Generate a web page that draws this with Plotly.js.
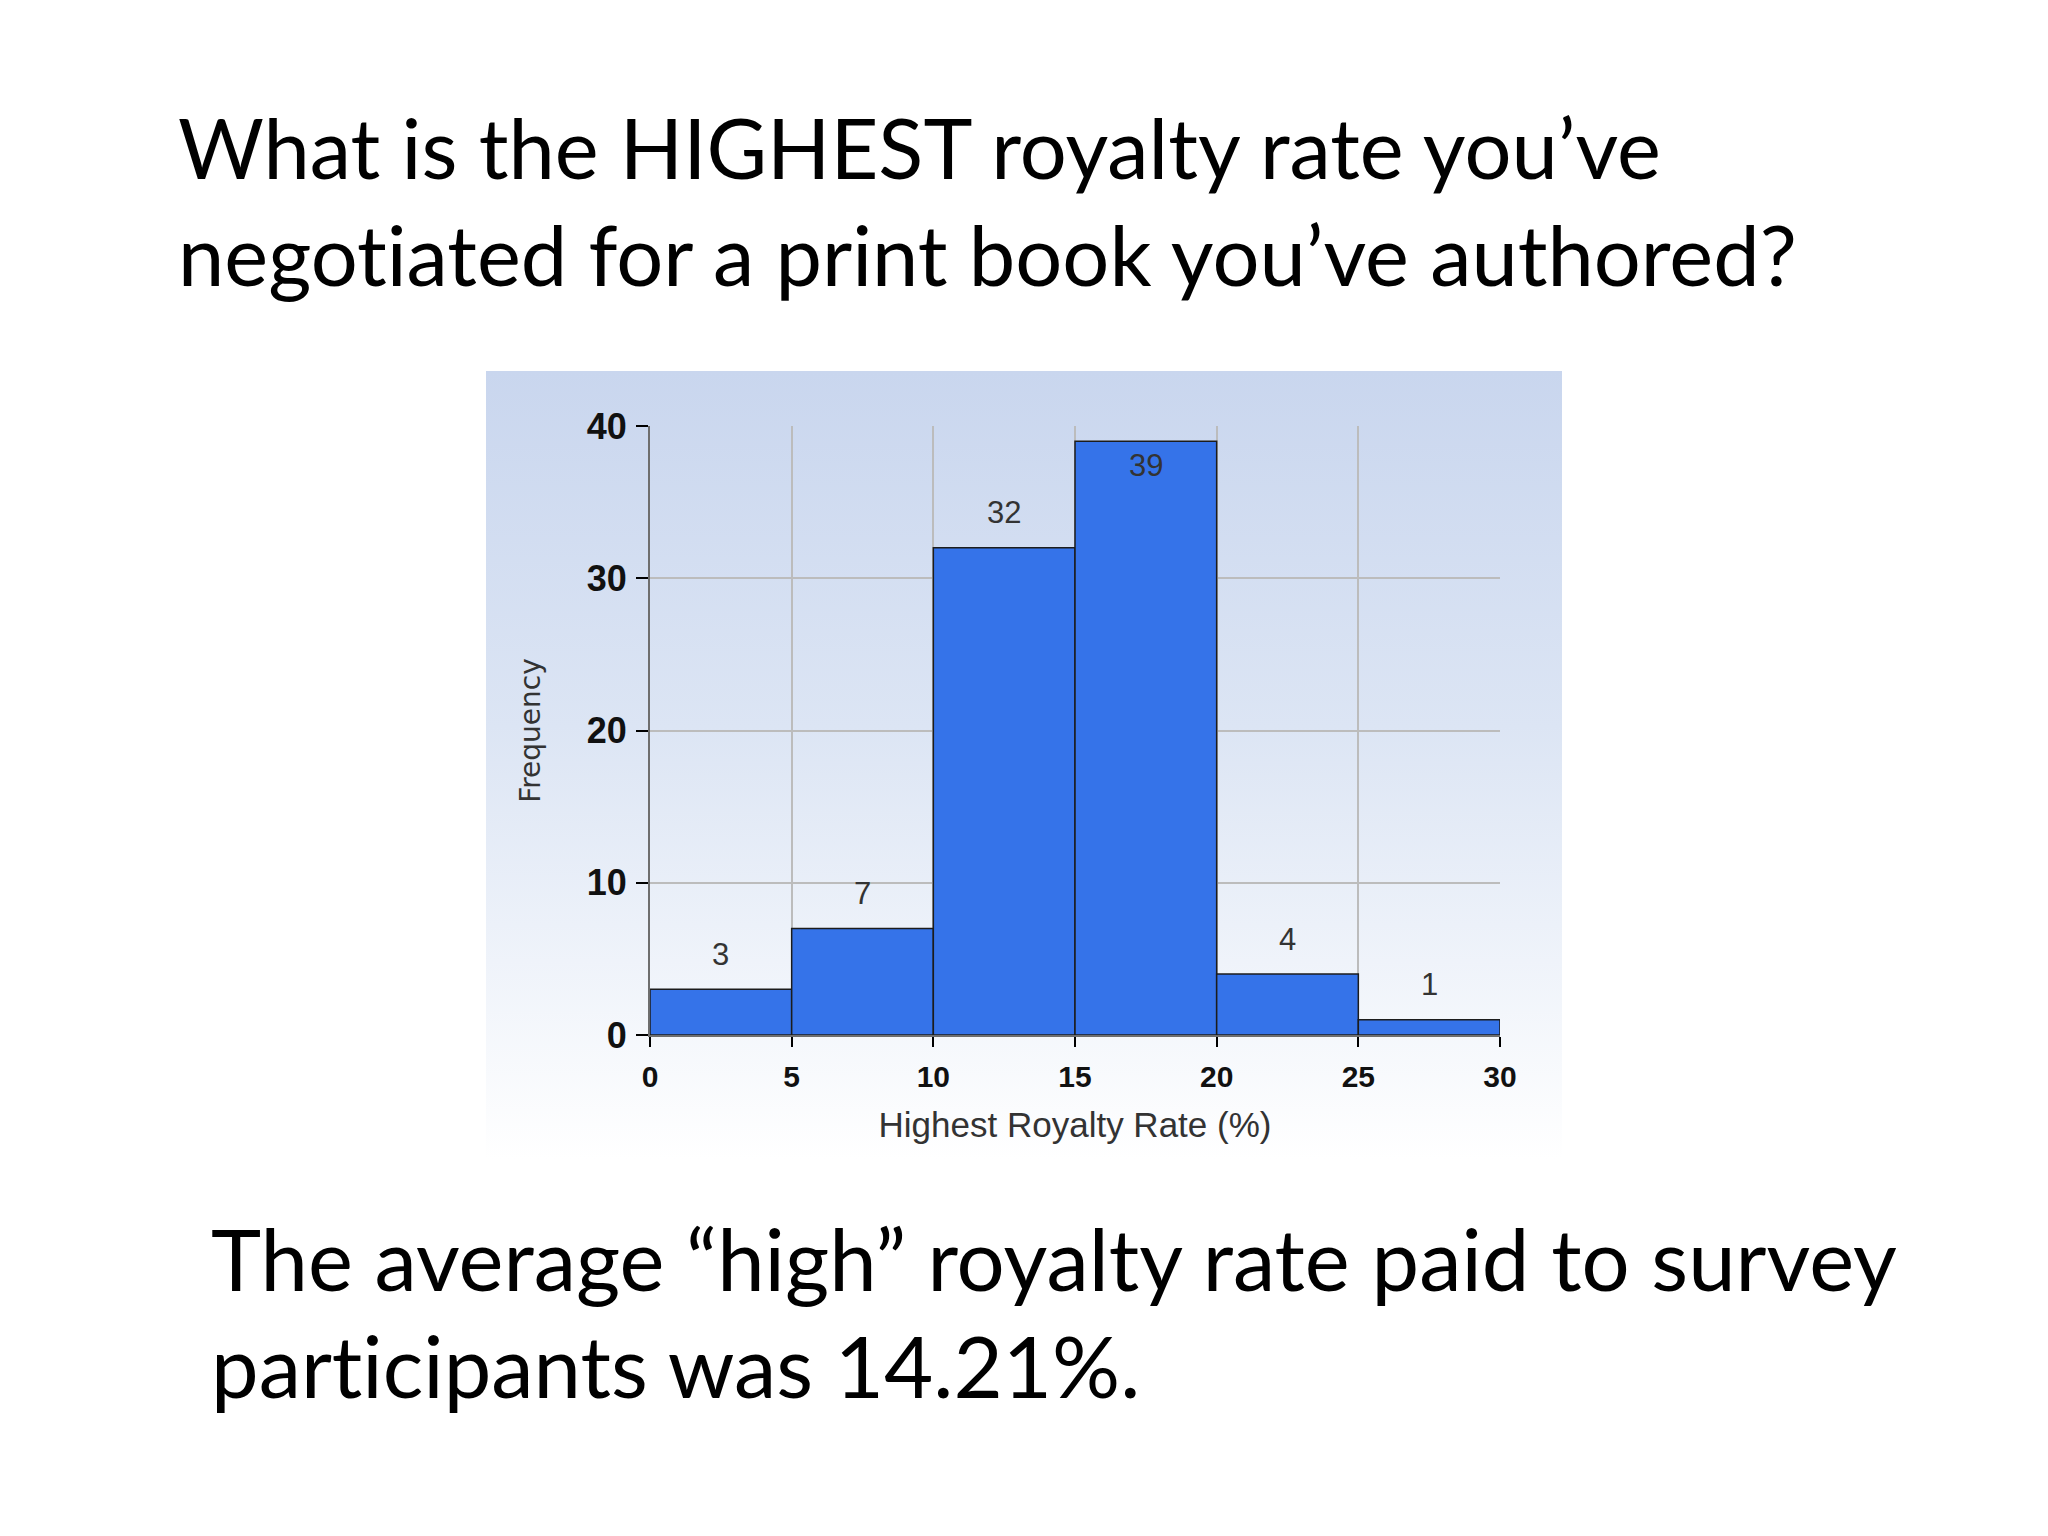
<!DOCTYPE html>
<html>
<head>
<meta charset="utf-8">
<script src="https://cdn.plot.ly/plotly-3.0.1.min.js"></script>
<style>html,body{margin:0;padding:0;background:#fff;}#chart{width:2048px;height:1536px;}
text{font-variant-ligatures:none;font-feature-settings:"liga" 0;}</style>
</head>
<body>
<div id="chart"></div>
<script>
// ---- data ----
const binEdges = [0, 5, 10, 15, 20, 25, 30];
const counts = [3, 7, 32, 39, 4, 1];
const yTicks = [0, 10, 20, 30, 40];
const titleLines = ["What is the HIGHEST royalty rate you\u2019ve", "negotiated for a print book you\u2019ve authored?"];
const noteLines = ["The average \u201chigh\u201d royalty rate paid to survey", "participants was 14.21%."];
const xTitle = "Highest Royalty Rate (%)";
const yTitle = "Frequency";

// ---- layout geometry (pixels) ----
const W = 2048, H = 1536;
const L = 650, R = 1500, T = 426, B = 1035;
const px2x = p => (p - L) / (R - L);
const px2y = p => (B - p) / (B - T);

const centers = counts.map((c, i) => (binEdges[i] + binEdges[i + 1]) / 2);
const widths = counts.map((c, i) => binEdges[i + 1] - binEdges[i]);

const grad = "<svg xmlns='http://www.w3.org/2000/svg' width='100' height='100' preserveAspectRatio='none'>" +
  "<defs><linearGradient id='g' x1='0' y1='0' x2='0' y2='1'>" +
  "<stop offset='0' stop-color='#c9d6ee'/><stop offset='0.45' stop-color='#dce5f4'/><stop offset='1' stop-color='#ffffff'/>" +
  "</linearGradient></defs><rect width='100' height='100' fill='url(#g)'/></svg>";
const gradSrc = "data:image/svg+xml;charset=utf-8," + encodeURIComponent(grad);

const trace = {
  type: 'bar',
  x: centers,
  y: counts,
  width: widths,
  marker: {color: '#3573e9', line: {color: '#1c1c1c', width: 1.5}},
  hoverinfo: 'x+y',
  showlegend: false
};

const annotations = [];
counts.forEach((v, i) => {
  const inside = v >= 38;
  annotations.push({
    x: centers[i], y: v, xref: 'x', yref: 'y',
    text: String(v), showarrow: false,
    xanchor: 'center', yanchor: 'middle',
    yshift: inside ? -24 : 35,
    font: {family: 'Liberation Sans, Arial, sans-serif', size: 31, color: '#333333'}
  });
});
const titleFont = {family: 'Lato, Calibri, sans-serif', size: 83, color: '#000000'};
const noteFont = {family: 'Lato, Calibri, sans-serif', size: 85, color: '#000000'};
const titleY = [147, 254];
titleLines.forEach((t, i) => annotations.push({
  xref: 'paper', yref: 'paper', x: px2x(176), y: px2y(titleY[i]),
  xanchor: 'left', yanchor: 'middle', text: t, showarrow: false, font: titleFont
}));
const noteY = [1258, 1365];
noteLines.forEach((t, i) => annotations.push({
  xref: 'paper', yref: 'paper', x: px2x(209), y: px2y(noteY[i]),
  xanchor: 'left', yanchor: 'middle', text: t, showarrow: false, font: noteFont
}));

const layout = {
  width: W, height: H,
  margin: {l: L, r: W - R, t: T, b: H - B, pad: 0},
  paper_bgcolor: '#ffffff',
  plot_bgcolor: '#ffffff',
  bargap: 0,
  showlegend: false,
  images: [{
    source: gradSrc, xref: 'paper', yref: 'paper',
    x: px2x(486), y: px2y(371), sizex: px2x(1562) - px2x(486), sizey: px2y(371) - px2y(1160),
    xanchor: 'left', yanchor: 'top', sizing: 'stretch', layer: 'below'
  }],
  xaxis: {
    range: [binEdges[0], binEdges[binEdges.length - 1]],
    tickmode: 'array', tickvals: binEdges, ticktext: binEdges.map(String),
    ticks: 'outside', ticklen: 10, tickwidth: 2, tickcolor: '#000000',
    showline: true, linecolor: '#6e6e6e', linewidth: 2,
    showgrid: true, gridcolor: '#bcbcbc', gridwidth: 2,
    zeroline: false,
    tickfont: {family: 'Liberation Sans, Arial, sans-serif', size: 30, color: '#111111', weight: 'bold'},
    ticklabelstandoff: 4,
    title: {text: xTitle, standoff: 20, font: {family: 'Liberation Sans, Arial, sans-serif', size: 35, color: '#333333'}}
  },
  yaxis: {
    range: [yTicks[0], yTicks[yTicks.length - 1]],
    tickmode: 'array', tickvals: yTicks, ticktext: yTicks.map(String),
    ticks: 'outside', ticklen: 12, tickwidth: 2, tickcolor: '#000000',
    showline: true, linecolor: '#6e6e6e', linewidth: 2,
    showgrid: true, gridcolor: '#bcbcbc', gridwidth: 2,
    zeroline: false,
    tickfont: {family: 'Liberation Sans, Arial, sans-serif', size: 36, color: '#111111', weight: 'bold'},
    ticklabelstandoff: 2,
    title: {text: yTitle, standoff: 38, font: {family: 'DejaVu Sans, sans-serif', size: 28, color: '#333333'}}
  },
  annotations: annotations
};

Plotly.newPlot('chart', [trace], layout, {staticPlot: true, displayModeBar: false});
</script>
</body>
</html>
